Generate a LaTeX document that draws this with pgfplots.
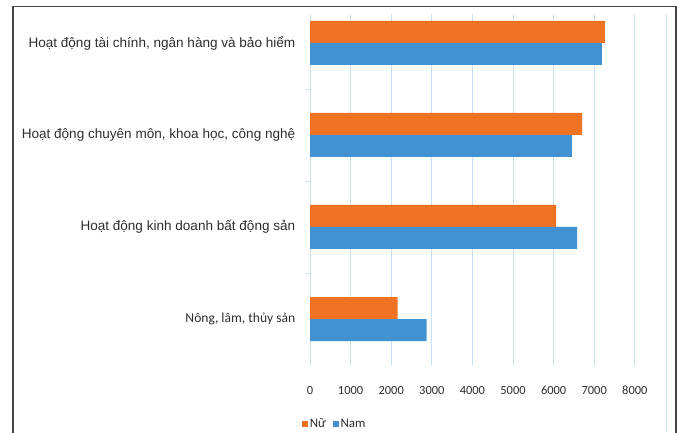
\documentclass[border=0pt]{standalone}
\usepackage{fontspec}
\setmainfont[Numbers=Lining]{Carlito}
\newfontfamily\arialfont{Liberation Sans}
\newfontfamily\calibrifont[Numbers=Lining]{Carlito}
\usepackage{pgfplots}
\pgfplotsset{compat=1.18}
\definecolor{nuor}{RGB}{240,115,35}
\definecolor{namb}{RGB}{66,146,210}
\definecolor{gridc}{RGB}{200,224,242}
\definecolor{framec}{RGB}{70,70,70}
\definecolor{txt}{RGB}{45,45,45}
\begin{document}
\begin{tikzpicture}[x=1bp,y=1bp]
\path[use as bounding box] (0,0) rectangle (680,432);
\draw[framec, line width=1.3bp] (13,-2) -- (13,425.5) -- (676,425.5) -- (676,-2);
\draw[gridc, line width=0.8bp] (666,0) -- (666,418);
\begin{axis}[
  at={(310bp,67bp)}, anchor=south west,
  scale only axis, width=356bp, height=351bp,
  xmin=0, xmax=8768, ymin=-0.5, ymax=3.315,
  separate axis lines,
  axis y line*=left, axis x line*=bottom,
  x axis line style={draw=none},
  y axis line style={draw=gridc, line width=0.8bp, -},
  xtick={0,1000,...,8000},
  xmajorgrids, grid style={draw=gridc, line width=0.8bp},
  major x tick style={draw=none},
  ytick={0,1,2,3},
  yticklabels={{\calibrifont\fontsize{13.6}{15}\selectfont Nông, lâm, thủy sản},
               {Hoạt động kinh doanh bất động sản},
               {Hoạt động chuyên môn, khoa học, công nghệ},
               {Hoạt động tài chính, ngân hàng và bảo hiểm}},
  major y tick style={draw=none},
  minor ytick={0.5,1.5,2.5},
  minor y tick style={draw=gridc, line width=0.8bp},
  minor tick length=5bp,
  tick align=outside,
  yticklabel style={font=\arialfont\fontsize{13.6}{15}\selectfont, text=txt, anchor=east, xshift=-7bp},
  xticklabel style={font=\calibrifont\fontsize{12.5}{14}\selectfont, text=txt, text height=8.5bp, text depth=0bp, yshift=-13bp},
  /pgf/number format/assume math mode=true,
  /pgf/number format/1000 sep={},
  scaled x ticks=false,
  legend style={at={(-0.022,-0.168)}, anchor=west, draw=none, fill=none,
    font=\calibrifont\fontsize{13}{14}\selectfont, text=txt,
    legend columns=2, inner sep=0pt,
    /tikz/every even column/.append style={column sep=5bp}},
  legend image code/.code={\fill[#1,draw=none] (0bp,-2.8bp) rectangle (5.5bp,2.8bp);},
  legend cell align=left,
  clip=false,
]
\addplot[xbar, fill=nuor, draw=none, bar width=22bp, bar shift=11bp]
  coordinates {(2160,0) (6060,1) (6700,2) (7260,3)};
\addlegendentry{Nữ}
\addplot[xbar, fill=namb, draw=none, bar width=22bp, bar shift=-11bp]
  coordinates {(2870,0) (6580,1) (6450,2) (7190,3)};
\addlegendentry{Nam}
\end{axis}
\end{tikzpicture}
\end{document}
